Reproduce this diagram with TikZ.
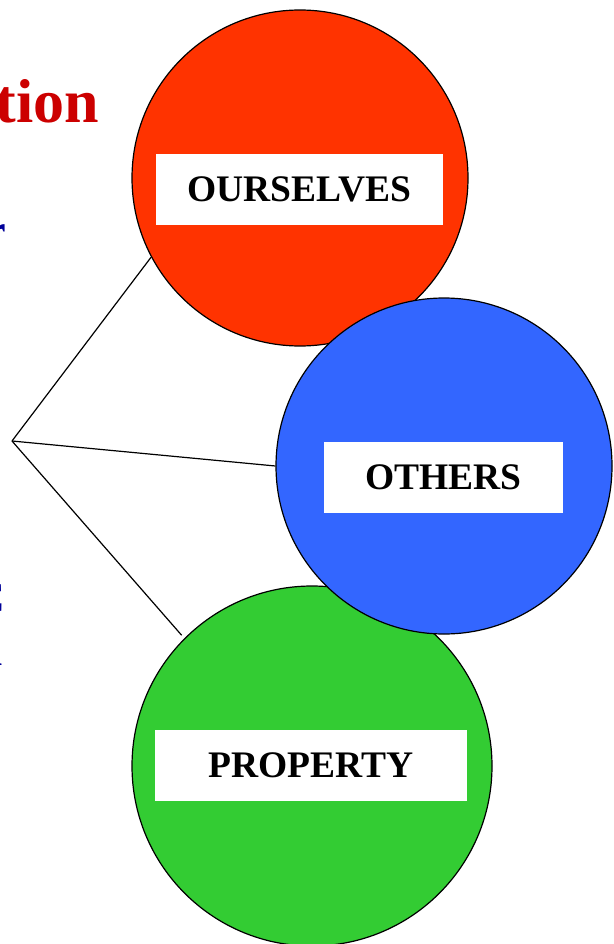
\documentclass[tikz,border=0pt]{standalone}
\usepackage{fontspec}
\setmainfont{Liberation Serif}
\definecolor{redc}{RGB}{255,51,0}
\definecolor{bluec}{RGB}{51,102,255}
\definecolor{greenc}{RGB}{51,204,51}
\definecolor{titlered}{RGB}{204,0,0}
\definecolor{textblue}{RGB}{0,0,153}
\tikzset{
  circ/.style={circle, draw=black, line width=1.2pt, inner sep=0pt},
  lbl/.style={fill=white, inner sep=0pt, minimum height=71pt,
    font=\fontsize{37.5}{42}\selectfont\bfseries},
  conn/.style={draw=black, line width=1.2pt},
  side/.style={anchor=base east, inner sep=0pt, text=textblue,
    font=\fontsize{44}{50}\selectfont\bfseries}
}
\begin{document}
\begin{tikzpicture}[x=1pt,y=-1pt]
\useasboundingbox (0,0) rectangle (613,944);
% clipped title and side text
\node[anchor=base east, inner sep=0pt, text=titlered,
  font=\fontsize{62}{70}\selectfont\bfseries] (title) at (99,123) {tion};
\node[side] (t1) at (6,245) {r};
\node[side] (t2) at (5,612) {C};
\node[side] (t3) at (3,665) {l};
% circles
\node[circ, fill=redc, minimum size=336pt] (red) at (300,178) {};
\node[circ, fill=greenc, minimum size=360pt] (green) at (312,766) {};
\node[circ, fill=bluec, minimum size=336pt] (blue) at (444,466) {};
% labels
\node[lbl, minimum width=287pt] (lred) at (299.5,189.5) {OURSELVES};
\node[lbl, minimum width=239pt] (lblue) at (443.5,477.5) {OTHERS};
\node[lbl, minimum width=312pt] (lgreen) at (311,765.5) {PROPERTY};
% connectors
\coordinate (hub) at (12,441);
\draw[conn] (hub) -- (red.208);
\draw[conn] (hub) -- (blue.180);
\draw[conn, shorten >=4pt] (hub) -- (green.135);
\end{tikzpicture}
\end{document}
